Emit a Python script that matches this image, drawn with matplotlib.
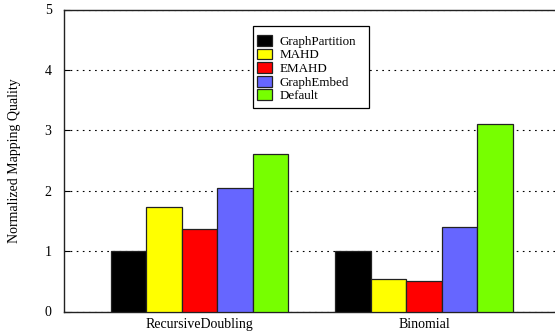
import numpy as np
import matplotlib
matplotlib.use("Agg")
import matplotlib.pyplot as plt
from matplotlib.patches import Rectangle

plt.rcParams['font.family'] = ['Liberation Serif', 'DejaVu Serif']

# data
groups = ["RecursiveDoubling", "Binomial"]
methods = ["GraphPartition", "MAHD", "EMAHD", "GraphEmbed", "Default"]
graph_partition = [1.0, 1.0]
mahd = [1.73, 0.54]
emahd = [1.37, 0.50]
graph_embed = [2.04, 1.40]
default = [2.61, 3.10]
colors = ["#000000", "#ffff00", "#ff0000", "#6666ff", "#77ff00"]

series = [graph_partition, mahd, emahd, graph_embed, default]

W, H = 555, 335
fig = plt.figure(figsize=(W / 100, H / 100), dpi=100)
# axes box in pixels (right edge falls just outside the picture)
x0, x1, y0, y1 = 64, 559.5, 311.5, 9.5
ax = fig.add_axes([x0 / W, 1 - y0 / H, (x1 - x0) / W, (y0 - y1) / H])

x = np.arange(len(groups))
bw = 0.158
for i, (vals, c) in enumerate(zip(series, colors)):
    ax.bar(x + (i - 2) * bw, vals, width=bw, color=c, edgecolor="#222222",
           linewidth=0.9, label=methods[i], zorder=3)

ax.set_xlim(-0.604, 1.604)
ax.set_ylim(0, 5)
ax.set_yticks(range(6))
ax.set_xticks(x)
ax.set_xticklabels(groups, fontsize=10)
ax.tick_params(axis='x', length=0, pad=5)
ax.tick_params(axis='y', direction='in', length=4, pad=9, labelsize=10)
ax.yaxis.grid(True, color='black', linestyle=(0, (1.5, 4)), linewidth=0.8, zorder=1)
ax.set_axisbelow(True)
for s in ax.spines.values():
    s.set_linewidth(1.0)
    s.set_color('#222222')

fig.text(15 / W, 1 - 161 / H, "Normalized Mapping Quality", rotation=90,
         fontsize=10, ha='center', va='center')

# legend box (gnuplot style, drawn by hand so the padding matches)
bx0, bx1, by0, by1 = 253, 369, 26, 108
box = Rectangle((bx0 / W, 1 - by1 / H), (bx1 - bx0) / W, (by1 - by0) / H,
                transform=fig.transFigure, facecolor='white', edgecolor='black',
                linewidth=0.9, zorder=4)
ax.add_patch(box)
box.set_clip_on(False)

lx, ly = (257.3 - x0) / (x1 - x0), (y0 - 35) / (y0 - y1)
leg = ax.legend(loc='upper left', bbox_to_anchor=(lx, ly), fontsize=9.4,
                frameon=False, handlelength=1.1, handleheight=0.9,
                handletextpad=0.6, labelspacing=0.05, borderpad=0,
                borderaxespad=0)
leg.set_zorder(5)

fig.savefig("out.png", dpi=100)
